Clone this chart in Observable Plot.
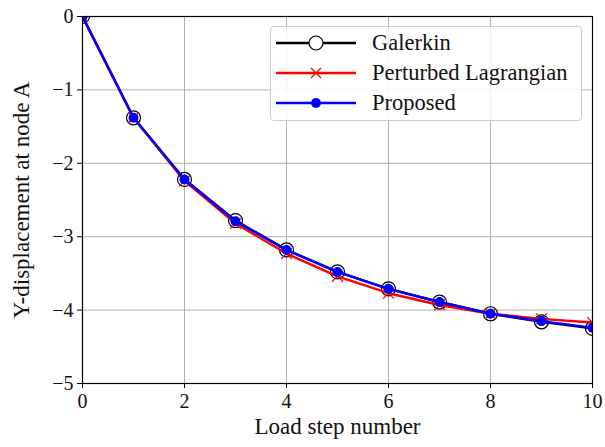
<!DOCTYPE html>
<html>
<head>
<meta charset="utf-8">
<script src="https://cdn.jsdelivr.net/npm/d3@7"></script>
<script src="https://cdn.jsdelivr.net/npm/@observablehq/plot@0.6"></script>
<style>
  body { margin: 0; background: #fff; }
  #chart { position: relative; width: 605px; height: 447px; font-family: "Liberation Serif", "DejaVu Serif", serif; }
  #legend { position: absolute; left: 270px; top: 26px; width: 312px; height: 95px; box-sizing: border-box;
            border: 1px solid #cccccc; border-radius: 4px; background: rgba(255,255,255,0.85); }
  #legend .row { position: absolute; left: 0; height: 30px; display: flex; align-items: center; }
  #legend .row span { font-size: 22.5px; margin-left: 10px; color: #111; white-space: nowrap; }
</style>
</head>
<body>
<div id="chart"></div>
<script>
// Load steps and Y-displacement at node A for each method
const steps = [0, 1, 2, 3, 4, 5, 6, 7, 8, 9, 10];
const galerkin = [0, -1.38, -2.22, -2.78, -3.18, -3.48, -3.71, -3.89, -4.05, -4.16, -4.25];
const perturbed = [0, -1.38, -2.24, -2.82, -3.23, -3.54, -3.77, -3.93, -4.05, -4.12, -4.17];
const proposed = [0, -1.38, -2.22, -2.79, -3.18, -3.48, -3.71, -3.89, -4.05, -4.15, -4.24];

const seriesNames = ["Galerkin", "Perturbed Lagrangian", "Proposed"];
const seriesColors = ["black", "red", "blue"];
const xTicks = [0, 2, 4, 6, 8, 10];
const yTicks = [0, -1, -2, -3, -4, -5];

const toRows = (vals) => steps.map((s, i) => ({step: s, y: vals[i]}));
const gal = toRows(galerkin), per = toRows(perturbed), pro = toRows(proposed);

const fmt = d => d < 0 ? "\u2212" + Math.abs(d) : String(d);

const chart = Plot.plot({
  width: 605,
  height: 447,
  marginLeft: 82,
  marginRight: 13,
  marginTop: 16,
  marginBottom: 64,
  style: {fontFamily: "'Liberation Serif', 'DejaVu Serif', serif", color: "#111", background: "white", overflow: "visible"},
  x: {domain: [0, 10]},
  y: {domain: [-5, 0]},
  marks: [
    Plot.gridX(xTicks, {stroke: "#b0b0b0", strokeOpacity: 1, strokeWidth: 1}),
    Plot.gridY(yTicks, {stroke: "#b0b0b0", strokeOpacity: 1, strokeWidth: 1}),
    Plot.axisX({ticks: xTicks, tickSize: 5, tickPadding: 5, tickFormat: fmt,
                label: "Load step number", labelAnchor: "center", labelArrow: "none", labelOffset: 50}),
    Plot.axisY({ticks: yTicks, tickSize: 5, tickPadding: 4, tickFormat: fmt,
                label: "Y-displacement at node A", labelAnchor: "center", labelArrow: "none", labelOffset: 70}),
    // Galerkin: black line with open circles
    Plot.line(gal, {x: "step", y: "y", stroke: seriesColors[0], strokeWidth: 2.4, clip: true}),
    Plot.dot(gal, {x: "step", y: "y", r: 7, stroke: seriesColors[0], strokeWidth: 1.2, fill: "none", clip: true}),
    // Perturbed Lagrangian: red line with crosses
    Plot.line(per, {x: "step", y: "y", stroke: seriesColors[1], strokeWidth: 2.4, clip: true}),
    Plot.dot(per, {x: "step", y: "y", symbol: "times", r: 5, stroke: seriesColors[1], strokeWidth: 1.2, clip: true}),
    // Proposed: blue line with filled dots
    Plot.line(pro, {x: "step", y: "y", stroke: seriesColors[2], strokeWidth: 2.4, clip: true}),
    Plot.dot(pro, {x: "step", y: "y", r: 5, fill: seriesColors[2], stroke: "none", clip: true}),
    Plot.frame({stroke: "black", strokeWidth: 1.2})
  ]
});

// Tick labels and axis titles at a larger size
d3.select(chart).selectAll('g[aria-label$="tick label"]').attr("font-size", 20);
d3.select(chart).selectAll('g[aria-label="x-axis label"], g[aria-label="y-axis label"]').attr("font-size", 23);
d3.select(chart).selectAll('g[aria-label$="tick"]').attr("stroke", "black");

const host = document.getElementById("chart");
host.appendChild(chart);

// Legend box drawn in HTML over the plot area
const legend = document.createElement("div");
legend.id = "legend";
const markers = [
  `<circle cx="40" cy="10" r="7" fill="white" stroke="black" stroke-width="1.2"/>`,
  `<path d="M35 5 L45 15 M45 5 L35 15" stroke="red" stroke-width="1.4"/>`,
  `<circle cx="40" cy="10" r="5" fill="blue"/>`
];
seriesNames.forEach((name, i) => {
  const row = document.createElement("div");
  row.className = "row";
  row.style.top = (1 + i * 30) + "px";
  row.innerHTML = `<svg width="86" height="20" style="margin-left:5px"><line x1="0" x2="80" y1="10" y2="10" stroke="${seriesColors[i]}" stroke-width="2.5"/>${markers[i]}</svg><span>${name}</span>`;
  legend.appendChild(row);
});
host.appendChild(legend);
</script>
</body>
</html>
